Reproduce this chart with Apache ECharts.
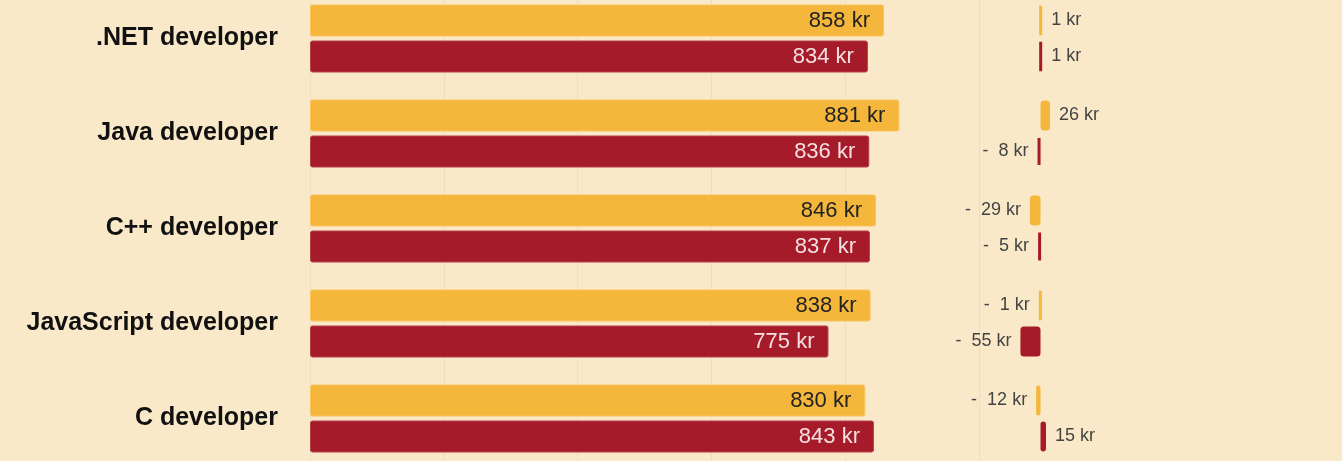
<!DOCTYPE html>
<html lang="en">

<head>
    <meta charset="UTF-8">
    <title>Developer salaries</title>
    <script src="https://cdn.jsdelivr.net/npm/echarts@6/dist/echarts.min.js"></script>
    <style>
        html, body { margin: 0; padding: 0; background: #FAE9C9; overflow: hidden; }
        #main { position: absolute; left: 0; top: -9px; width: 1342px; height: 475px; }
    </style>
</head>

<body>
    <!-- chart box is a bit taller than the window: the first and last bands run off the edges -->
    <div id="main"></div>
    <script>
        // data
        var roles = ['.NET developer', 'Java developer', 'C++ developer', 'JavaScript developer', 'C developer']
        var salaryA = [858, 881, 846, 838, 830]   // yellow
        var salaryB = [834, 836, 837, 775, 843]   // red
        var changeA = [1, 26, -29, -1, -12]
        var changeB = [1, -8, -5, -55, 15]

        var yellow = '#F5B63C'
        var red = '#A61B29'
        var font = "Arial, 'Liberation Sans', sans-serif"

        function fmtChange(v) {
            return v < 0 ? '-  ' + Math.abs(v) + ' kr' : v + ' kr'
        }

        // change bars: label goes to the outer side of the bar
        function changeData(arr) {
            return arr.map(function (v) {
                return {
                    value: v,
                    label: { position: v < 0 ? 'left' : 'right' }
                }
            })
        }

        var mCharts = echarts.init(document.getElementById('main'))

        var option = {
            backgroundColor: '#FAE9C9',
            animation: false,
            grid: [
                { left: 310, right: 363, top: 0, bottom: 0 },
                { left: 1004, right: 265, top: 0, bottom: 0 }
            ],
            xAxis: [{
                gridIndex: 0,
                type: 'value',
                min: 0,
                max: 1000,
                interval: 200,
                axisLabel: { show: false },
                axisLine: { show: false },
                axisTick: { show: false },
                splitLine: { lineStyle: { color: '#F0DEBE', width: 1 } }
            }, {
                gridIndex: 1,
                type: 'value',
                min: -100,
                max: 100,
                axisLabel: { show: false },
                axisLine: { show: false },
                axisTick: { show: false },
                splitLine: { show: false }
            }],
            yAxis: [{
                gridIndex: 0,
                type: 'category',
                inverse: true,
                data: roles,
                axisLine: { show: false },
                axisTick: { show: false },
                axisLabel: {
                    margin: 32,
                    fontFamily: font,
                    fontSize: 25,
                    fontWeight: 'bold',
                    color: '#111'
                }
            }, {
                gridIndex: 1,
                type: 'category',
                inverse: true,
                data: roles,
                axisLine: { show: false },
                axisTick: { show: false },
                axisLabel: { show: false }
            }],
            series: [{
                type: 'bar',
                xAxisIndex: 0,
                yAxisIndex: 0,
                data: salaryA,
                barWidth: 32,
                barGap: '12.5%',
                itemStyle: { color: yellow, borderColor: '#F7C460', borderWidth: 1, borderRadius: 2 },
                label: {
                    show: true,
                    position: 'insideRight',
                    distance: 14,
                    fontFamily: font,
                    fontSize: 22,
                    color: '#222',
                    formatter: '{c} kr'
                }
            }, {
                type: 'bar',
                xAxisIndex: 0,
                yAxisIndex: 0,
                data: salaryB,
                barWidth: 32,
                itemStyle: { color: red, borderColor: '#B6414C', borderWidth: 1, borderRadius: 2 },
                label: {
                    show: true,
                    position: 'insideRight',
                    distance: 14,
                    fontFamily: font,
                    fontSize: 22,
                    color: '#F5E1E1',
                    formatter: '{c} kr'
                }
            }, {
                type: 'bar',
                xAxisIndex: 1,
                yAxisIndex: 1,
                data: changeData(changeA),
                barWidth: 30,
                barGap: '20%',
                itemStyle: { color: yellow, borderColor: yellow, borderWidth: 3, borderRadius: 2 },
                label: {
                    show: true,
                    distance: 9,
                    fontFamily: font,
                    fontSize: 18,
                    color: '#444',
                    formatter: function (p) { return fmtChange(p.value) }
                }
            }, {
                type: 'bar',
                xAxisIndex: 1,
                yAxisIndex: 1,
                data: changeData(changeB),
                barWidth: 30,
                itemStyle: { color: red, borderColor: red, borderWidth: 3, borderRadius: 2 },
                label: {
                    show: true,
                    distance: 9,
                    fontFamily: font,
                    fontSize: 18,
                    color: '#444',
                    formatter: function (p) { return fmtChange(p.value) }
                }
            }]
        }

        mCharts.setOption(option)
    </script>
</body>

</html>
